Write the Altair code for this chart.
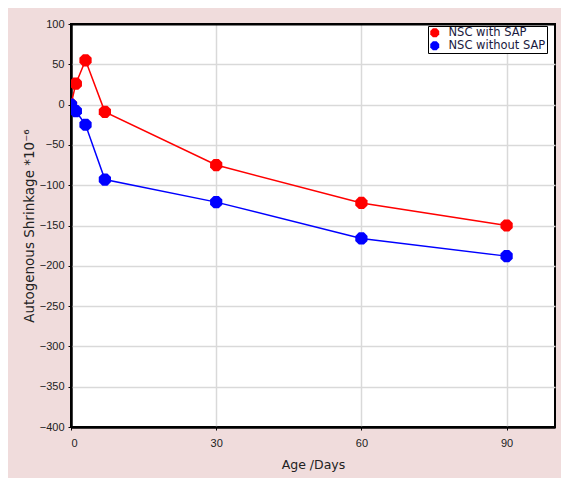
import altair as alt
import pandas as pd

days = [0, 1, 3, 7, 30, 60, 90]
with_sap = [0, 26, 55, -9, -75, -122, -150]
without_sap = [0, -8, -25, -93, -121, -166, -188]
series_names = ["NSC with SAP", "NSC without SAP"]
series_colors = ["#ff0000", "#0000ff"]
x_ticks = [0, 30, 60, 90]
y_ticks = [100, 50, 0, -50, -100, -150, -200, -250, -300, -350, -400]

rows = []
for d, v in zip(days, with_sap):
    rows.append({"day": d, "value": v, "series": series_names[0]})
for d, v in zip(days, without_sap):
    rows.append({"day": d, "value": v, "series": series_names[1]})
df = pd.DataFrame(rows)

octagon = "M-0.41,-1L0.41,-1L1,-0.41L1,0.41L0.41,1L-0.41,1L-1,0.41L-1,-0.41Z"

x = alt.X("day:Q", scale=alt.Scale(domain=[0, 100], nice=False),
          axis=alt.Axis(values=x_ticks, title="Age /Days", grid=True,
                        gridColor=alt.condition("datum.value == 0", alt.value("black"), alt.value("#d9d9d9")),
                        gridWidth=alt.condition("datum.value == 0", alt.value(2), alt.value(1.5)),
                        labelPadding=7, titlePadding=10))
y = alt.Y("value:Q", scale=alt.Scale(domain=[-400, 100], nice=False),
          axis=alt.Axis(values=y_ticks, title="Autogenous Shrinkage *10⁻⁶", grid=True,
                        gridColor=alt.condition("datum.value == 100 || datum.value == -400", alt.value("black"), alt.value("#d9d9d9")),
                        gridWidth=alt.condition("datum.value == 100 || datum.value == -400", alt.value(2), alt.value(1.5)),
                        titlePadding=3))
color = alt.Color("series:N",
                  scale=alt.Scale(domain=series_names, range=series_colors),
                  legend=alt.Legend(title=None, orient="none", legendX=357, legendY=2,
                                    fillColor="white", strokeColor="black",
                                    padding=1, labelFontSize=11.5, symbolSize=80,
                                    symbolType=octagon, rowPadding=0,
                                    labelFont="DejaVu Sans", symbolStrokeWidth=0,
                                    labelColor="#1a1a40", labelOffset=8))

base = alt.Chart(df).encode(x=x, y=y, color=color, detail="series:N")
lines = base.mark_line(strokeWidth=1.5, clip=True)
points = base.mark_point(filled=True, shape=octagon, size=150, opacity=1, clip=True)

chart = (lines + points).properties(
    width=484, height=403,
    autosize=alt.AutoSizeParams(type="none"),
    padding={"left": 63, "top": 16, "right": 6, "bottom": 51},
    background="#f0dcdc",
).configure_view(
    stroke="black", strokeWidth=2, fill="white"
).configure_axis(
    labelFont="Liberation Sans", titleFont="DejaVu Sans",
    labelFontSize=11, titleFontSize=12.5, labelColor="#222", titleColor="#222",
    titleFontWeight="normal",
    domain=True, domainColor="black", domainWidth=2,
    tickColor="black", tickSize=3, labelPadding=4
).configure_axisY(titleFontSize=13.5)

chart.save("out.html", embed_options={"renderer": "svg", "actions": False})
